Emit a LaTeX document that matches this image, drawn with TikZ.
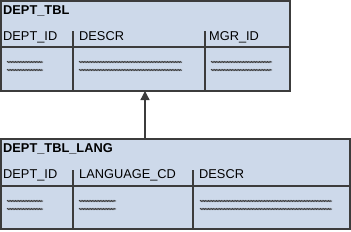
\documentclass[tikz,border=0pt]{standalone}
\usepackage{fontspec}
\setmainfont{Liberation Sans}
\usetikzlibrary{decorations.pathmorphing,arrows.meta}
\definecolor{tblfill}{HTML}{CDD9EA}
\definecolor{tblline}{HTML}{3C3C3C}
\begin{document}
\begin{tikzpicture}[x=1pt,y=-1pt,
  tbl/.style={draw=tblline,fill=tblfill,line width=1.3pt},
  sep/.style={draw=tblline,line width=1.2pt},
  ttl/.style={anchor=base west,inner sep=0pt,font=\fontsize{12.8}{14}\selectfont\bfseries},
  col/.style={anchor=base west,inner sep=0pt,font=\fontsize{12.8}{14}\selectfont},
  wav/.style={draw=tblline,line width=0.7pt,decorate,decoration={snake,segment length=1.6pt,amplitude=0.6pt}},
  conn/.style={draw=tblline,line width=1.3pt,-{Triangle[length=9pt,width=9pt]}}]
\useasboundingbox (0,0) rectangle (351,231);
% top table
\path[tbl] (1,1) rectangle (290,91);
\node[coordinate] (tA) at (145,91) {};
\draw[sep] (1,47) -- (290,47);
\draw[sep] (73,31) -- (73,91);
\draw[sep] (205,31) -- (205,91);
\node[ttl] (t0) at (3,14) {DEPT\_TBL};
\node[col] (t1) at (3,40) {DEPT\_ID};
\node[col] (t2) at (79,40) {DESCR};
\node[col] (t3) at (209,40) {MGR\_ID};
\draw[wav] (7,62) -- (43,62);
\draw[wav] (7,70) -- (43,70);
\draw[wav] (79,62) -- (182,62);
\draw[wav] (79,70) -- (182,70);
\draw[wav] (211,62) -- (272,62);
\draw[wav] (211,70) -- (272,70);
% bottom table
\path[tbl] (1,139) rectangle (350,229);
\node[coordinate] (bA) at (145,139) {};
\draw[sep] (1,186) -- (350,186);
\draw[sep] (73,170) -- (73,229);
\draw[sep] (193,170) -- (193,229);
\node[ttl] (b0) at (3,152) {DEPT\_TBL\_LANG};
\node[col] (b1) at (3,178) {DEPT\_ID};
\node[col] (b2) at (79,178) {LANGUAGE\_CD};
\node[col] (b3) at (199,178) {DESCR};
\draw[wav] (7,201) -- (43,201);
\draw[wav] (7,209) -- (43,209);
\draw[wav] (79,201) -- (116,201);
\draw[wav] (79,209) -- (116,209);
\draw[wav] (200,201) -- (332,201);
\draw[wav] (200,209) -- (332,209);
% connector
\draw[conn] (bA) -- (tA);
\end{tikzpicture}
\end{document}
